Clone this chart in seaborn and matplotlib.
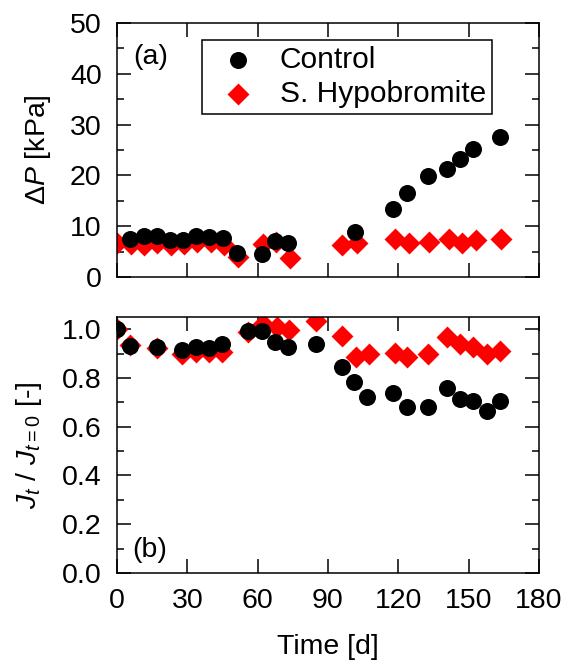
import matplotlib
matplotlib.use("Agg")
import matplotlib.pyplot as plt
import seaborn as sns
import pandas as pd
from matplotlib.ticker import MultipleLocator

# ---- data ----
dp_ctrl_t = [5.5, 11.6, 16.9, 22.6, 28.3, 33.6, 39.2, 45.3, 51.1, 61.7, 67.4, 73.1,
             101.5, 117.9, 123.6, 132.8, 140.9, 146.3, 152.0, 163.2]
dp_ctrl = [7.5, 8.1, 8.1, 7.3, 7.3, 8.1, 7.9, 7.6, 4.7, 4.5, 7.0, 6.6,
           8.8, 13.3, 16.6, 19.8, 21.2, 23.2, 25.1, 27.6]

dp_hypo_t = [0.0, 5.8, 11.6, 17.2, 22.9, 28.6, 34.2, 39.9, 45.6, 51.8, 62.2, 67.8, 73.8,
             95.9, 102.3, 118.4, 124.5, 133.2, 141.5, 147.2, 153.0, 164.0]
dp_hypo = [6.6, 6.4, 6.3, 6.6, 6.2, 6.4, 6.8, 6.8, 6.3, 3.9, 6.4, 6.8, 3.8,
           6.3, 6.6, 7.4, 6.7, 6.8, 7.4, 6.7, 7.3, 7.5]

j_ctrl_t = [0.0, 5.5, 16.9, 27.9, 33.6, 39.2, 44.9, 51.0, 56.0, 61.7, 67.4, 73.1, 84.7,
            95.8, 101.1, 106.8, 117.9, 123.6, 132.8, 140.9, 146.3, 152.0, 157.7, 163.4]
j_ctrl = [1.0, 0.932, 0.928, 0.914, 0.925, 0.922, 0.941, 1.09, 0.993, 0.993, 0.949, 0.928, 0.941,
          0.843, 0.782, 0.723, 0.737, 0.682, 0.682, 0.759, 0.714, 0.707, 0.666, 0.707]

j_hypo_t = [0.0, 5.5, 16.9, 27.9, 33.6, 39.2, 44.9, 56.0, 62.4, 68.1, 73.5, 84.7,
            95.8, 101.9, 107.6, 118.6, 123.6, 132.8, 140.9, 146.3, 152.0, 157.7, 163.4]
j_hypo = [1.0, 0.934, 0.922, 0.90, 0.905, 0.905, 0.905, 0.99, 1.02, 1.007, 0.996, 1.034,
          0.972, 0.884, 0.898, 0.904, 0.884, 0.90, 0.966, 0.941, 0.928, 0.90, 0.911]

labels = ["Control", "S. Hypobromite"]
x_ticks = [0, 30, 60, 90, 120, 150, 180]

# ---- style ----
sns.set_style("ticks")
plt.rcParams["font.family"] = ["Liberation Sans", "DejaVu Sans"]
plt.rcParams["mathtext.fontset"] = "custom"
plt.rcParams["mathtext.rm"] = "Liberation Sans"
plt.rcParams["mathtext.it"] = "Liberation Sans:italic"
plt.rcParams["font.size"] = 20.5
for k in ["text.color", "axes.labelcolor", "xtick.color", "ytick.color", "axes.edgecolor"]:
    plt.rcParams[k] = "black"

FS = 20.5

fig = plt.figure(figsize=(5.67, 6.65), dpi=100)
ax1 = fig.add_axes([0.2063, 0.5835, 0.7443, 0.3819])
ax2 = fig.add_axes([0.2063, 0.1383, 0.7443, 0.385])

df_dp_c = pd.DataFrame({"t": dp_ctrl_t, "v": dp_ctrl})
df_dp_h = pd.DataFrame({"t": dp_hypo_t, "v": dp_hypo})
df_j_c = pd.DataFrame({"t": j_ctrl_t, "v": j_ctrl})
df_j_h = pd.DataFrame({"t": j_hypo_t, "v": j_hypo})

S_C = 150
S_D = 125

for ax, dh, dc in [(ax1, df_dp_h, df_dp_c), (ax2, df_j_h, df_j_c)]:
    sns.scatterplot(data=dh, x="t", y="v", marker="D", color="#ff0000", s=S_D,
                    linewidth=0, ax=ax, label=labels[1], zorder=2)
    sns.scatterplot(data=dc, x="t", y="v", marker="o", color="black", s=S_C,
                    linewidth=0, ax=ax, label=labels[0], zorder=3)

for ax in (ax1, ax2):
    ax.set_xlim(0, 180)
    ax.xaxis.set_major_locator(MultipleLocator(30))
    ax.tick_params(which="major", direction="in", top=True, right=True,
                   length=10, width=1.1, labelsize=FS, colors="black")
    ax.tick_params(axis="y", which="major", pad=11)
    ax.tick_params(axis="x", which="major", pad=11)
    ax.tick_params(which="minor", direction="in", top=True, right=True,
                   length=5, width=1.1, colors="black")
    for sp in ax.spines.values():
        sp.set_linewidth(1.1)
        sp.set_color("black")
    ax.set_xlabel("")

ax1.set_ylim(0, 50)
ax1.yaxis.set_major_locator(MultipleLocator(10))
ax1.yaxis.set_minor_locator(MultipleLocator(5))
ax1.tick_params(labelbottom=False)
ax1.set_ylabel("Δ$\\mathit{P}$ [kPa]", fontsize=FS)
ax1.yaxis.set_label_coords(-0.152, 0.5)

ax2.set_ylim(0, 1.05)
ax2.set_xticks(x_ticks)
ax2.yaxis.set_major_locator(MultipleLocator(0.2))
ax2.yaxis.set_minor_locator(MultipleLocator(0.1))
ax2.set_ylabel(r"$J_t$ / $J_{t=0}$ [-]", fontsize=FS)
ax2.yaxis.set_label_coords(-0.172, 0.5)
ax2.set_xlabel("Time [d]", labelpad=14, fontsize=FS)

ax1.text(0.038, 0.866, "(a)", transform=ax1.transAxes, ha="left", va="center", fontsize=FS)
ax2.text(0.036, 0.09, "(b)", transform=ax2.transAxes, ha="left", va="center", fontsize=FS)

h, l = ax1.get_legend_handles_labels()
order = [l.index(labels[0]), l.index(labels[1])]
ax1.legend([h[i] for i in order], [l[i] for i in order], loc="upper left",
           bbox_to_anchor=(0.2007, 0.933), borderaxespad=0, frameon=True,
           fancybox=False, edgecolor="black", framealpha=1, fontsize=21.5,
           borderpad=0.2, labelspacing=0.2, handletextpad=0.42, handlelength=2.0)
ax1.get_legend().get_frame().set_linewidth(1.1)
ax2.get_legend().remove()

fig.savefig("out.png", dpi=100)
